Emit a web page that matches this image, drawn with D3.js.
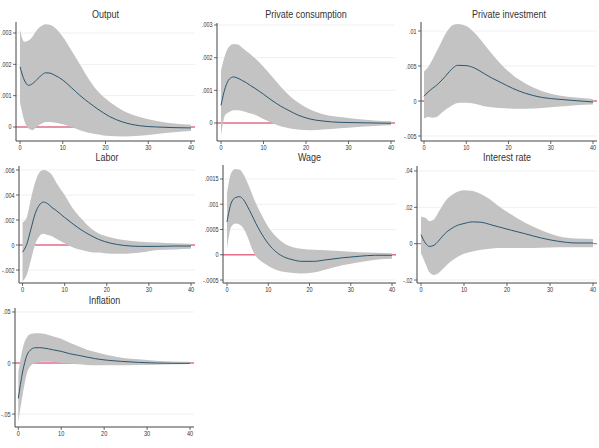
<!DOCTYPE html>
<html>
<head>
<meta charset="utf-8">
<script src="https://cdn.jsdelivr.net/npm/d3@7"></script>
<style>
  body { margin: 0; background: #fff; }
  svg { display: block; font-family: "Liberation Sans", Arial, sans-serif; }
</style>
</head>
<body>
<div id="chart"></div>
<script>
var w = 599;
var h = 448;

// horizons used for the readings (quarters after the shock)
var horizons = [0, 1, 2, 3, 4, 5, 6, 7, 8, 10, 12, 14, 16, 18, 21, 24, 28, 32, 36, 40];
var xTicks = [0, 10, 20, 30, 40];

var titles = ["Output", "Private consumption", "Private investment", "Labor", "Wage", "Interest rate", "Inflation"];

// Output
var outputMean  = [.00192, .0015, .00133, .00139, .00152, .00165, .00173, .00172, .00166, .0015, .00126, .00101, .00079, .00059, .00033, .00016, .00004, 0, -.00002, -.00003];
var outputUpper = [.0031, .00272, .00276, .0029, .0031, .00322, .00328, .00326, .00318, .00288, .00245, .002, .00155, .00117, .0008, .00053, .00032, .00019, .00011, .00007];
var outputLower = [.0008, .0002, -.00005, -.0001, .00002, .0001, .00016, .00016, .00014, .00009, 0, -.0001, -.00018, -.00023, -.00029, -.0003, -.00028, -.00022, -.00017, -.00013];

// Private consumption
var consMean  = [.00054, .00108, .00135, .00141, .00137, .0013, .00123, .00114, .00106, .00088, .00069, .00052, .00038, .00025, .00012, .00006, .00002, .00001, 0, -.00001];
var consUpper = [.0016, .0021, .00235, .00242, .0024, .0023, .0022, .0021, .00198, .00172, .00142, .00112, .00085, .00064, .00041, .00027, .00018, .00012, .00008, .00006];
var consLower = [-.0004, .00025, .00034, .00039, .00039, .00037, .00033, .00029, .00025, .00012, 0, -.0001, -.00016, -.0002, -.00022, -.0002, -.00016, -.00012, -.00009, -.00007];

// Private investment
var invMean  = [.00067, .0013, .0018, .00226, .00284, .0035, .0042, .0048, .0051, .00505, .0047, .004, .0033, .0027, .0018, .0011, .0005, .00024, .00005, -.00014];
var invUpper = [.0042, .0049, .0059, .0071, .0083, .0095, .0104, .0109, .011, .0107, .0097, .0083, .0068, .0054, .0037, .0025, .0014, .0008, .0005, .0003];
var invLower = [-.0025, -.0023, -.0024, -.0023, -.0018, -.0013, -.0009, -.0005, -.0003, -.00024, -.0004, -.0007, -.0009, -.001, -.0011, -.0011, -.001, -.0008, -.0006, -.0005];

// Labor
var laborMean  = [-.00057, .00005, .00127, .0025, .0032, .00343, .0033, .003, .00276, .0022, .00168, .0012, .0008, .00046, .00014, -.00003, -.00011, -.00011, -.00008, -.00008];
var laborUpper = [.0018, .0022, .0037, .005, .0058, .006, .0059, .0056, .005, .004, .0029, .0021, .0014, .00095, .0006, .0004, .00027, .0002, .00014, .0001];
var laborLower = [-.0029, -.0024, -.0012, .00005, .0007, .0009, .0008, .0007, .0005, .00014, -.0002, -.0004, -.00055, -.0006, -.0007, -.0007, -.0006, -.0004, -.00035, -.0003];

// Wage
var wageMean  = [.00065, .00102, .00113, .00115, .00109, .00095, .00079, .00062, .00047, .00022, .00005, -.00005, -.0001, -.00013, -.00013, -.0001, -.00006, -.00003, -.00001, -.00001];
var wageUpper = [.00122, .00162, .0017, .00169, .00159, .00142, .00122, .00102, .00085, .00055, .00035, .00022, .00015, .00012, .0001, .00009, .00007, .00005, .00004, .00003];
var wageLower = [.00012, .00055, .00062, .0006, .00052, .00035, .00013, -.00003, -.00011, -.00022, -.0003, -.00034, -.00036, -.00037, -.00035, -.00029, -.00021, -.00015, -.0001, -.00008];

// Interest rate
var rateMean  = [.005, .0004, -.0015, -.0009, .0013, .0041, .0065, .0082, .0096, .0111, .012, .0118, .0106, .0093, .0074, .0056, .0031, .0013, .0004, .0004];
var rateUpper = [.0148, .0143, .0124, .0133, .017, .021, .0244, .0265, .028, .0294, .029, .0272, .0244, .0207, .016, .0118, .0074, .0041, .0028, .0026];
var rateLower = [-.0052, -.0107, -.0159, -.0172, -.0163, -.0141, -.0117, -.0097, -.008, -.0056, -.0043, -.0033, -.0028, -.0024, -.0024, -.0024, -.0023, -.002, -.0019, -.0019];

// Inflation
var inflMean  = [-.0347, -.0088, .0075, .0133, .015, .015, .0146, .0139, .013, .0114, .0091, .0075, .0058, .0042, .0026, .0016, .0006, 0, -.0003, -.0003];
var inflUpper = [-.01, .014, .0253, .0286, .0292, .0292, .0286, .0275, .0263, .0237, .0198, .0163, .013, .0107, .0075, .0052, .0036, .0023, .0016, .0013];
var inflLower = [-.0575, -.0315, -.0104, -.0023, 0, .001, .0013, .0012, .001, .0003, -.0006, -.0013, -.0019, -.0023, -.0023, -.0023, -.002, -.0016, -.0013, -.001];

// y ticks per panel
var yTicks = [
  [0, .001, .002, .003],
  [0, .001, .002, .003],
  [-.005, 0, .005, .01],
  [-.002, 0, .002, .004, .006],
  [-.0005, 0, .0005, .001, .0015],
  [-.02, 0, .02, .04],
  [-.05, 0, .05]
];
var yTickLabels = [
  ["0", ".001", ".002", ".003"],
  ["0", ".001", ".002", ".003"],
  ["-.005", "0", ".005", ".01"],
  ["-.002", "0", ".002", ".004", ".006"],
  ["-.0005", "0", ".0005", ".001", ".0015"],
  ["-.02", "0", ".02", ".04"],
  ["-.05", "0", ".05"]
];

var series = [
  [outputMean, outputUpper, outputLower],
  [consMean, consUpper, consLower],
  [invMean, invUpper, invLower],
  [laborMean, laborUpper, laborLower],
  [wageMean, wageUpper, wageLower],
  [rateMean, rateUpper, rateLower],
  [inflMean, inflUpper, inflLower]
];

// plot regions: axis x, top, right, bottom, pixel of x=0 and x=40, y domain, title baseline
var layout = [
  {ax: 16,  top: 22,  right: 195, bottom: 141, x0: 20,  x40: 191, yd: [-.000447, .003351], ty: 17.5},
  {ax: 217, top: 23,  right: 395, bottom: 141, x0: 221, x40: 391, yd: [-.000551, .003061], ty: 17.5},
  {ax: 421, top: 22,  right: 597, bottom: 141, x0: 424, x40: 593, yd: [-.005714, .011286], ty: 17.5},
  {ax: 19,  top: 166, right: 195, bottom: 283, x0: 22.5, x40: 191, yd: [-.00304, .00632], ty: 160.7},
  {ax: 223, top: 165, right: 396, bottom: 283, x0: 227, x40: 392, yd: [-.000559, .001777], ty: 160.7},
  {ax: 417, top: 166, right: 597, bottom: 283, x0: 421, x40: 593, yd: [-.02163, .04275], ty: 160.7},
  {ax: 15,  top: 308, right: 194, bottom: 427, x0: 18.3, x40: 190, yd: [-.0627, .0539], ty: 304.3}
];

var svg = d3.select("#chart")
            .append("svg")
            .attr("width", w)
            .attr("height", h);

function addText(g, x, y, txt, size, anchor, sx, color) {
    g.append("text")
        .attr("transform", "translate(" + x + "," + y + ") scale(" + sx + ",1)")
        .attr("text-anchor", anchor)
        .attr("font-size", size)
        .attr("fill", color)
        .text(txt);
}

layout.forEach(function(L, i) {
    var g = svg.append("g");
    var xScale = d3.scaleLinear().domain([0, 40]).range([L.x0, L.x40]);
    var yScale = d3.scaleLinear().domain(L.yd).range([L.bottom, L.top]);
    var mean = series[i][0], upper = series[i][1], lower = series[i][2];
    var rows = horizons.map(function(hz, k) {
        return {h: hz, m: mean[k], u: upper[k], l: lower[k]};
    });

    // grid
    g.selectAll(".grid")
        .data(yTicks[i])
        .enter()
        .append("line")
        .attr("x1", L.ax).attr("x2", L.right)
        .attr("y1", d => yScale(d)).attr("y2", d => yScale(d))
        .attr("stroke", "#ececec")
        .attr("stroke-width", 0.8);

    // zero line (under the band)
    g.append("line")
        .attr("x1", L.ax).attr("x2", L.right)
        .attr("y1", yScale(0)).attr("y2", yScale(0))
        .attr("stroke", "#e2708a")
        .attr("stroke-width", 1.3);

    // confidence band
    var area = d3.area()
        .x(d => xScale(d.h))
        .y0(d => yScale(d.l))
        .y1(d => yScale(d.u))
        .curve(d3.curveMonotoneX);
    g.append("path")
        .datum(rows)
        .attr("d", area)
        .attr("fill", "#c3c3c3");

    // impulse response
    var line = d3.line()
        .x(d => xScale(d.h))
        .y(d => yScale(d.m))
        .curve(d3.curveMonotoneX);
    g.append("path")
        .datum(rows)
        .attr("d", line)
        .attr("fill", "none")
        .attr("stroke", "#2b5670")
        .attr("stroke-width", 1);

    // axes
    g.append("line")
        .attr("x1", L.ax).attr("x2", L.ax)
        .attr("y1", L.top).attr("y2", L.bottom)
        .attr("stroke", "#444").attr("stroke-width", 1);
    g.append("line")
        .attr("x1", L.ax).attr("x2", L.right)
        .attr("y1", L.bottom).attr("y2", L.bottom)
        .attr("stroke", "#444").attr("stroke-width", 1);

    yTicks[i].forEach(function(t, k) {
        var y = yScale(t);
        g.append("line")
            .attr("x1", L.ax - 3).attr("x2", L.ax)
            .attr("y1", y).attr("y2", y)
            .attr("stroke", "#444").attr("stroke-width", 0.8);
        addText(g, L.ax - 4.5, y + 2.5, yTickLabels[i][k], 7, "end", 0.78, "#333");
    });
    xTicks.forEach(function(t) {
        var x = xScale(t);
        g.append("line")
            .attr("x1", x).attr("x2", x)
            .attr("y1", L.bottom).attr("y2", L.bottom + 3)
            .attr("stroke", "#444").attr("stroke-width", 0.8);
        addText(g, x, L.bottom + 8.8, t, 7, "middle", 0.8, "#333");
    });

    // title
    addText(g, (L.ax + L.right) / 2, L.ty, titles[i], 10, "middle", 0.9, "#333");
});
</script>
</body>
</html>
